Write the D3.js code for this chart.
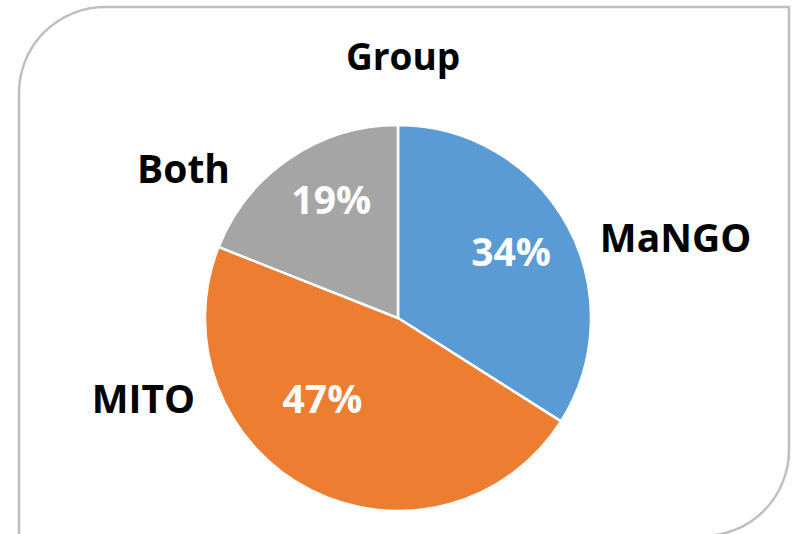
<!DOCTYPE html>
<html>
<head>
<meta charset="utf-8">
<script src="https://cdn.jsdelivr.net/npm/d3@7"></script>
<style>
  body { margin: 0; background: #fff; }
  text { font-family: "Open Sans", "Liberation Sans", sans-serif; font-weight: bold; }
</style>
</head>
<body>
<svg id="chart" width="793" height="534"></svg>
<script>
// data
const categories = ['MaNGO', 'MITO', 'Both']
const shares = [34, 47, 19]
const colours = ['#5B9BD5', '#ED7D31', '#A5A5A5']
const title = 'Group'

const width = 793, height = 534
const cx = 398, cy = 318, radius = 193
const fontSize = 39

const svg = d3.select('#chart')

// frame with two rounded corners (top-left, bottom-right)
let rc = 86
let x0 = 19, y0 = 7, x1 = 789, y1 = 536
svg.append('path')
    .attr('d', `M${x0},${y1} L${x0},${y0 + rc} A${rc},${rc} 0 0 1 ${x0 + rc},${y0} L${x1},${y0} L${x1},${y1 - rc} A${rc},${rc} 0 0 1 ${x1 - rc},${y1} Z`)
    .attr('fill', '#fff')
    .attr('stroke', '#BFBFBF')
    .attr('stroke-width', 2.5);

svg.append('text')
    .attr('x', 403)
    .attr('y', 70)
    .attr('text-anchor', 'middle')
    .attr('font-size', 37)
    .attr('fill', '#000')
    .text(title);

let table = categories.map((c, i) => ({ name: c, value: shares[i], colour: colours[i] }))

let pie = d3.pie().sort(null).value(d => d.value)
let arcs = pie(table)

let arc = d3.arc().innerRadius(0).outerRadius(radius)
let pctArc = d3.arc().innerRadius(radius * 0.68).outerRadius(radius * 0.68)
let nameArc = d3.arc().innerRadius(radius * 1.3).outerRadius(radius * 1.3)

let g = svg.append('g').attr('transform', `translate(${cx},${cy})`)

g.selectAll('path.slice')
    .data(arcs)
    .enter()
    .append('path')
    .attr('class', 'slice')
    .attr('d', arc)
    .attr('fill', d => d.data.colour)
    .attr('stroke', '#fff')
    .attr('stroke-width', 2.5)
    .attr('stroke-linejoin', 'round');

// small nudges so labels land where the original best-fit placed them
let pctNudge = { MaNGO: [-2, -3], MITO: [-16, -36], Both: [7, -10] }
let nameNudge = { MaNGO: [-18, 41], MITO: [-89, -143], Both: [-27, 58] }

g.selectAll('text.pct')
    .data(arcs)
    .enter()
    .append('text')
    .attr('class', 'pct')
    .attr('transform', d => {
        let c = pctArc.centroid(d)
        let n = pctNudge[d.data.name]
        return `translate(${c[0] + n[0]},${c[1] + n[1]})`
    })
    .attr('text-anchor', 'middle')
    .attr('dy', '0.36em')
    .attr('font-size', fontSize)
    .attr('fill', '#fff')
    .text(d => d.data.value + '%');

g.selectAll('text.name')
    .data(arcs)
    .enter()
    .append('text')
    .attr('class', 'name')
    .attr('transform', d => {
        let c = nameArc.centroid(d)
        let n = nameNudge[d.data.name]
        return `translate(${c[0] + n[0]},${c[1] + n[1]})`
    })
    .attr('text-anchor', d => (d.startAngle + d.endAngle) / 2 < Math.PI ? 'start' : 'end')
    .attr('dy', '0.36em')
    .attr('font-size', fontSize)
    .attr('fill', '#000')
    .text(d => d.data.name);
</script>
</body>
</html>
